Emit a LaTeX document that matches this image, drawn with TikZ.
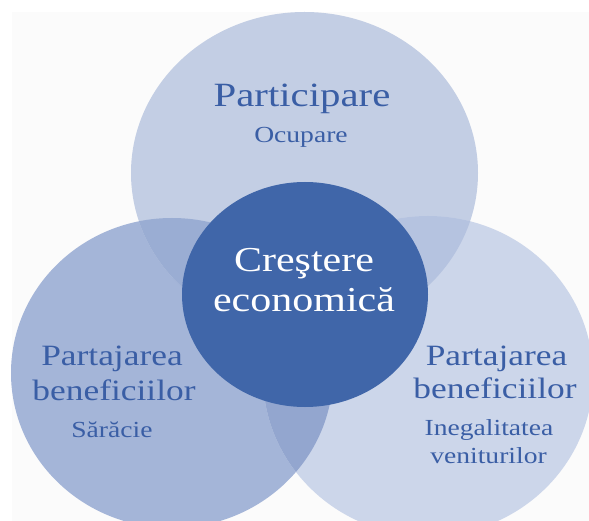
\documentclass[tikz,border=0pt]{standalone}
\usepackage{fontspec}
\setmainfont{Liberation Serif}[FakeStretch=1.2]
\definecolor{cTop}{HTML}{C3CEE4}
\definecolor{cLeft}{HTML}{A4B5D8}
\definecolor{cRight}{HTML}{CCD6EA}
\definecolor{cCenter}{HTML}{4066A9}
\definecolor{cTL}{HTML}{9AADD3}
\definecolor{cTR}{HTML}{B5C3E0}
\definecolor{cLR}{HTML}{93A6CF}
\definecolor{txtblue}{HTML}{3A5EA5}
\definecolor{bgdot}{HTML}{FBFBFB}
\begin{document}
\begin{tikzpicture}[x=1pt,y=-1pt,
  lbl/.style={inner sep=0pt, anchor=base, text=txtblue},
  big/.style={font=\fontsize{34}{38}\selectfont},
  mid/.style={font=\fontsize{29.5}{34}\selectfont},
  small/.style={font=\fontsize{23}{26}\selectfont},
  ctr/.style={inner sep=0pt, anchor=base, text=white, font=\fontsize{35}{40}\selectfont}]
\clip (0,0) rectangle (589,521);
\fill[white] (0,0) rectangle (589,521);
\fill[bgdot] (12,12) rectangle (589,521);
% base circles
\fill[cLeft] (172,373) ellipse [x radius=161pt, y radius=155pt];
\fill[cTop] (304.5,173) ellipse [x radius=173.5pt, y radius=161pt];
\fill[cRight] (428,376) ellipse [x radius=165pt, y radius=160pt];
% overlaps
\begin{scope}
  \clip (304.5,173) ellipse [x radius=173.5pt, y radius=161pt];
  \fill[cTL] (172,373) ellipse [x radius=161pt, y radius=155pt];
\end{scope}
\begin{scope}
  \clip (304.5,173) ellipse [x radius=173.5pt, y radius=161pt];
  \fill[cTR] (428,376) ellipse [x radius=165pt, y radius=160pt];
\end{scope}
\begin{scope}
  \clip (172,373) ellipse [x radius=161pt, y radius=155pt];
  \fill[cLR] (428,376) ellipse [x radius=165pt, y radius=160pt];
\end{scope}
% centre
\fill[cCenter] (305,294.5) ellipse [x radius=123pt, y radius=112.5pt];
% texts
\node[lbl,big] (t1) at (302,107) {Participare};
\node[lbl,font=\fontsize{23}{26}\selectfont] (t2) at (301,143) {Ocupare};
\node[ctr] (c1) at (304,272) {Creştere};
\node[ctr] (c2) at (304,312) {economică};
\node[lbl,mid] (l1) at (112,365) {Partajarea};
\node[lbl,mid] (l2) at (114,400) {beneficiilor};
\node[lbl,small] (l3) at (112,437) {Sărăcie};
\node[lbl,mid] (r1) at (496.5,365) {Partajarea};
\node[lbl,mid] (r2) at (495,398) {beneficiilor};
\node[lbl,small] (r3) at (489,435) {Inegalitatea};
\node[lbl,small] (r4) at (488.5,463) {veniturilor};
\end{tikzpicture}
\end{document}
